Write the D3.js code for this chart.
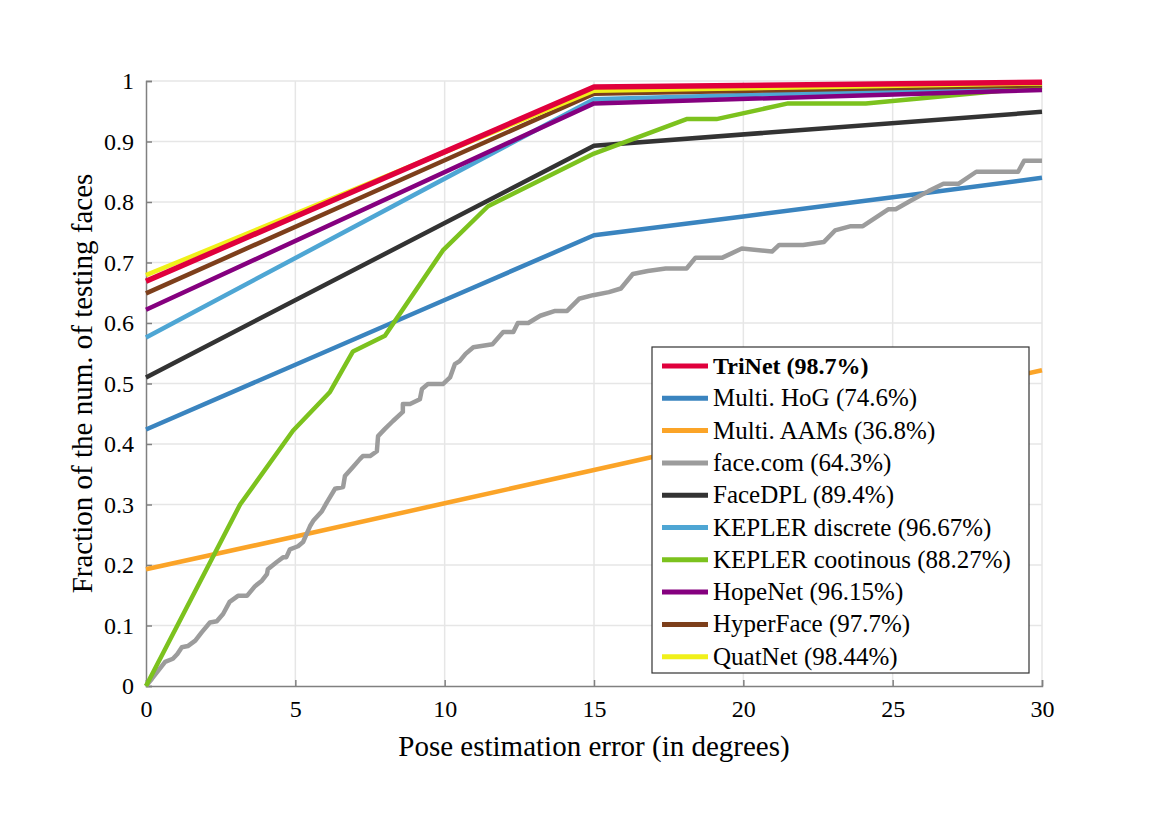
<!DOCTYPE html>
<html>
<head>
<meta charset="utf-8">
<script src="https://cdn.jsdelivr.net/npm/d3@7"></script>
</head>
<body style="margin:0;background:#fff">
<svg id="chart" width="1173" height="824" font-family="Liberation Serif"></svg>
<script>
// series names (legend order)
const names = [
  "TriNet (98.7%)", "Multi. HoG (74.6%)", "Multi. AAMs (36.8%)", "face.com (64.3%)",
  "FaceDPL (89.4%)", "KEPLER discrete (96.67%)", "KEPLER cootinous (88.27%)",
  "HopeNet (96.15%)", "HyperFace (97.7%)", "QuatNet (98.44%)"
];
const colors = ["#e0003c", "#3a84bf", "#fba428", "#9c9c9c", "#333333", "#4ea6d4",
  "#7cc21e", "#85007f", "#7d3f1b", "#f0f01a"];

// [error in degrees, fraction]
const triNet = [[0, 0.669], [15, 0.99], [30, 0.998]];
const multiHoG = [[0, 0.424], [5, 0.531], [10, 0.638], [15, 0.745], [20, 0.776], [25, 0.808], [30, 0.84]];
const multiAAMs = [[0, 0.193], [5, 0.247], [10, 0.302], [15, 0.357], [20, 0.412], [25, 0.467], [30, 0.522]];
const faceCom = [
  [0, 0], [0.2, 0.012], [0.64, 0.04], [0.9, 0.045], [1.05, 0.053], [1.2, 0.064], [1.4, 0.066],
  [1.65, 0.075], [1.87, 0.089], [2.14, 0.105], [2.37, 0.107], [2.58, 0.119], [2.8, 0.139],
  [3.08, 0.149], [3.38, 0.149], [3.65, 0.165], [3.88, 0.174], [4.05, 0.185], [4.08, 0.193],
  [4.38, 0.205], [4.6, 0.213], [4.7, 0.213], [4.82, 0.226], [5.09, 0.231], [5.26, 0.238],
  [5.49, 0.264], [5.6, 0.273], [5.89, 0.289], [6.06, 0.304], [6.33, 0.326], [6.6, 0.329],
  [6.66, 0.347], [6.93, 0.362], [7.16, 0.375], [7.26, 0.38], [7.5, 0.38], [7.73, 0.388],
  [7.77, 0.413], [8.0, 0.425], [8.27, 0.438], [8.6, 0.453], [8.6, 0.466], [8.84, 0.466],
  [9.17, 0.474], [9.24, 0.491], [9.44, 0.499], [9.94, 0.499], [10.18, 0.51], [10.34, 0.532],
  [10.5, 0.537], [10.7, 0.549], [10.96, 0.56], [11.6, 0.565], [11.96, 0.585], [12.3, 0.585],
  [12.45, 0.6], [12.8, 0.6], [13.2, 0.612], [13.7, 0.62], [14.1, 0.62], [14.5, 0.64],
  [14.97, 0.646], [15.5, 0.651], [15.9, 0.657], [16.3, 0.681], [16.8, 0.686], [17.4, 0.69],
  [18.1, 0.69], [18.4, 0.708], [19.3, 0.708], [19.95, 0.723], [20.96, 0.718], [21.2, 0.729],
  [22.0, 0.729], [22.7, 0.734], [23.07, 0.753], [23.6, 0.76], [24.0, 0.76], [24.85, 0.788],
  [25.1, 0.788], [25.6, 0.802], [26.2, 0.818], [26.7, 0.83], [27.2, 0.83], [27.8, 0.85],
  [29.2, 0.85], [29.4, 0.868], [30, 0.868]
];
const faceDPL = [[0, 0.51], [15, 0.893], [30, 0.949]];
const keplerDiscrete = [[0, 0.576], [15, 0.97], [30, 0.99]];
const keplerCont = [
  [0, 0], [3.15, 0.3], [4.92, 0.422], [6.16, 0.486], [6.93, 0.553], [8.0, 0.579],
  [9.94, 0.72], [11.45, 0.793], [15, 0.88], [18.1, 0.937], [19.1, 0.937], [21.5, 0.963],
  [24.1, 0.963], [30, 0.99]
];
const hopeNet = [[0, 0.622], [15, 0.963], [30, 0.985]];
const hyperFace = [[0, 0.649], [15, 0.979], [30, 0.993]];
const quatNet = [[0, 0.679], [15, 0.984], [30, 0.996]];

const seriesData = [triNet, multiHoG, multiAAMs, faceCom, faceDPL, keplerDiscrete,
  keplerCont, hopeNet, hyperFace, quatNet];

const xTicks = [0, 5, 10, 15, 20, 25, 30];
const yTicks = [0, 0.1, 0.2, 0.3, 0.4, 0.5, 0.6, 0.7, 0.8, 0.9, 1];

const svg = d3.select("#chart");
const plotL = 146, plotR = 1042, plotT = 81, plotB = 686;

const x = d3.scaleLinear().domain([0, 30]).range([plotL, plotR]);
const y = d3.scaleLinear().domain([0, 1]).range([plotB, plotT]);

// grid
const grid = svg.append("g");
grid.selectAll("line.gx").data(xTicks.slice(1)).join("line")
  .attr("x1", d => x(d)).attr("x2", d => x(d))
  .attr("y1", plotT).attr("y2", plotB)
  .attr("stroke", "#e6e6e6").attr("stroke-width", 1.5);
grid.selectAll("line.gy").data(yTicks.slice(1)).join("line")
  .attr("x1", plotL).attr("x2", plotR)
  .attr("y1", d => y(d)).attr("y2", d => y(d))
  .attr("stroke", "#e6e6e6").attr("stroke-width", 1.5);

// axes (ticks pointing inward)
const xAxis = svg.append("g").attr("transform", `translate(0,${plotB})`)
  .call(d3.axisBottom(x).tickValues(xTicks).tickSize(-6).tickPadding(14).tickFormat(d3.format("d")));
const yAxis = svg.append("g").attr("transform", `translate(${plotL},0)`)
  .call(d3.axisLeft(y).tickValues(yTicks).tickSize(-6).tickPadding(12).tickFormat(d => d === 0 || d === 1 ? d : d3.format(".1f")(d)));

[xAxis, yAxis].forEach(a => {
  a.attr("font-family", "Liberation Serif").attr("font-size", 24);
  a.select(".domain").attr("stroke", "#808080").attr("stroke-width", 1.5);
  a.selectAll(".tick line").attr("stroke", "#808080").attr("stroke-width", 1.5);
  a.selectAll(".tick text").attr("fill", "#000");
});

// lines: TriNet drawn last so it sits on top
const line = d3.line().x(d => x(d[0])).y(d => y(d[1]));
const order = d3.range(1, names.length).concat([0]);
svg.append("g").selectAll("path").data(order).join("path")
  .attr("d", i => line(seriesData[i]))
  .attr("fill", "none")
  .attr("stroke", i => colors[i])
  .attr("stroke-width", i => i === 0 ? 5.5 : 4.5)
  .attr("stroke-linejoin", "round");

// axis titles
svg.append("text").attr("x", (plotL + plotR) / 2).attr("y", 756)
  .attr("text-anchor", "middle").attr("font-size", 29).text("Pose estimation error (in degrees)");
svg.append("text").attr("transform", `translate(92,${(plotT + plotB) / 2}) rotate(-90)`)
  .attr("text-anchor", "middle").attr("font-size", 29).text("Fraction of the num. of testing faces");

// legend
const lg = svg.append("g");
lg.append("rect").attr("x", 652).attr("y", 347).attr("width", 377).attr("height", 326)
  .attr("fill", "#fff").attr("stroke", "#333").attr("stroke-width", 1.2);
const rows = lg.selectAll("g.row").data(names).join("g")
  .attr("transform", (d, i) => `translate(0,${366 + i * 32.3})`);
rows.append("line").attr("x1", 662).attr("x2", 708).attr("y1", 0).attr("y2", 0)
  .attr("stroke", (d, i) => colors[i]).attr("stroke-width", 5);
rows.append("text").attr("x", 713).attr("y", 8)
  .attr("font-size", (d, i) => i === 0 ? 24 : 25)
  .attr("font-weight", (d, i) => i === 0 ? "bold" : "normal")
  .text(d => d);
</script>
</body>
</html>
